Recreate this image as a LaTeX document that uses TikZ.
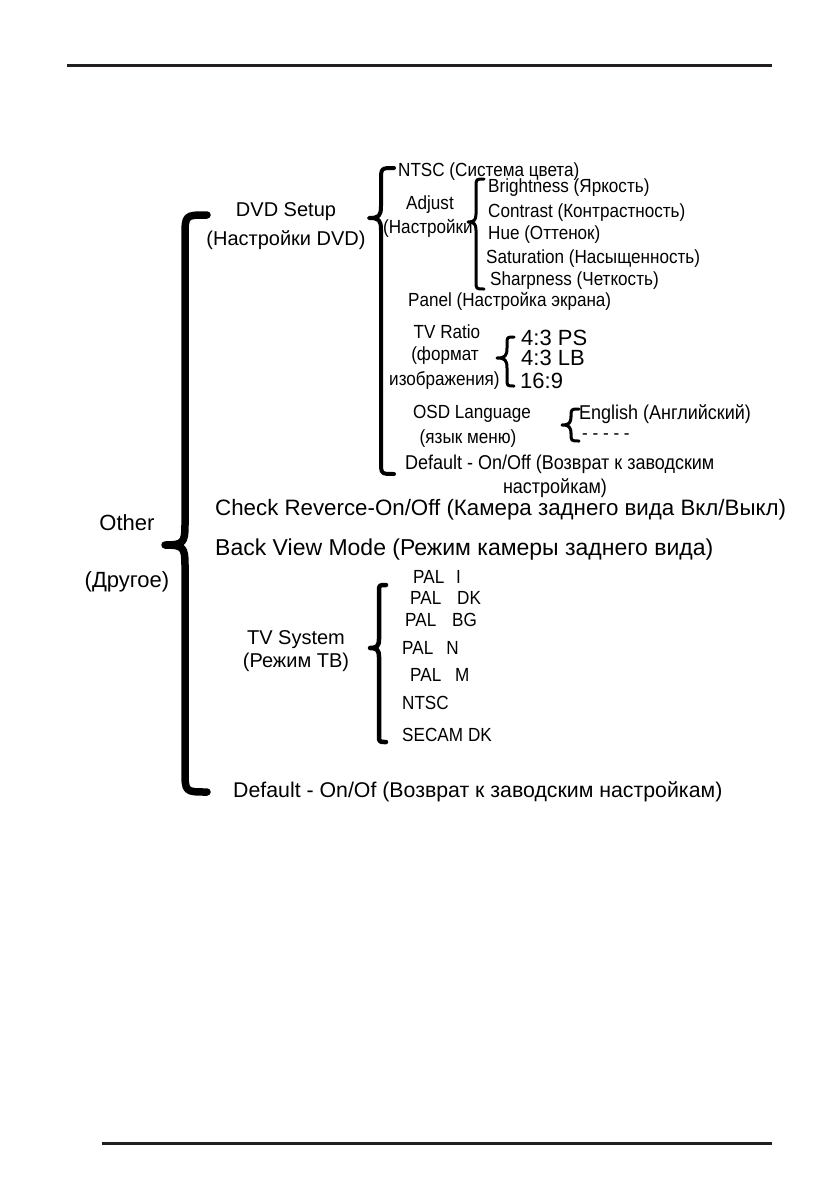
\documentclass[tikz,border=0pt]{standalone}
\usepackage{fontspec}
\setmainfont{Liberation Sans}
\newfontfamily\narrowfont[FakeStretch=0.9]{Liberation Sans}
\usepackage{tikz}
\usetikzlibrary{calc,positioning}
\usepackage{xcolor}
\definecolor{RuleBlack}{HTML}{231F20}
% curly brace: [opts] line x, tip x, cusp x, top y, cusp y, bottom y
\newcommand{\menubrace}[7][]{%
  \draw[bracepath,#1] (#3,#5) .. controls (#2,#5) .. (#2,{#5+#3-#2})
    -- (#2,{#6-#2+#4}) .. controls (#2,{#6-2}) and ({#2-2},#6) .. (#4,#6)
    .. controls ({#2-2},#6) and (#2,{#6+2}) .. (#2,{#6+#2-#4})
    -- (#2,{#7-#3+#2}) .. controls (#2,#7) .. (#3,#7);}

\begin{document}
\begin{tikzpicture}[x=1pt,y=-1pt,
    bigtxt/.style={font=\fontsize{20}{23}\selectfont, inner sep=0pt},
    hugetxt/.style={font=\fontsize{22}{25}\selectfont, inner sep=0pt},
    smalltxt/.style={font=\narrowfont\fontsize{19}{21}\selectfont, inner sep=0pt},
    bracepath/.style={line width=3pt, line cap=round, line join=round}]
  \useasboundingbox (0,0) rectangle (839,1191);
  % page rules
  \draw[RuleBlack, line width=3pt] (67,65) -- (772,65);
  \draw[RuleBlack, line width=3pt] (102,1143) -- (772,1143);
  % root
  \node[hugetxt] (other) at (127,523) {Other};
  \node[hugetxt] (otherru) at (127,582) {(Другое)};
  \menubrace[line width=7.5pt]{185}{207}{165}{215}{545}{792}
  % DVD setup
  \node[bigtxt] (dvd) at (286,212) {DVD Setup};
  \node[bigtxt] (dvdru) at (286,240) {(Настройки DVD)};
  \menubrace[line width=4pt]{381}{394}{369}{168}{218}{474}
  \node[smalltxt, anchor=west] (ntsccol) at (398,172) {NTSC (Система цвета)};
  \node[smalltxt] (adjust) at (430,205) {Adjust};
  \node[smalltxt, anchor=west] (adjustru) at (383,228) {(Настройки};
  \menubrace{476}{484}{468}{179}{222}{289}
  \node[smalltxt, anchor=west] (bright) at (488,188) {Brightness (Яркость)};
  \node[smalltxt, anchor=west] (contrast) at (488,213) {Contrast (Контрастность)};
  \node[smalltxt, anchor=west] (hue) at (488,235) {Hue (Оттенок)};
  \node[smalltxt, anchor=west] (satur) at (486,259) {Saturation (Насыщенность)};
  \node[smalltxt, anchor=west] (sharp) at (490,281) {Sharpness (Четкость)};
  \node[smalltxt, anchor=west] (panel) at (408,301) {Panel (Настройка экрана)};
  % TV ratio
  \node[smalltxt] (ratio) at (447,332) {TV Ratio};
  \node[smalltxt] (ratioru) at (445,356) {(формат};
  \node[smalltxt, anchor=west] (ratioru2) at (389,380) {изображения)};
  \menubrace{507}{514}{497}{337}{358}{386}
  \node[bigtxt, anchor=west, font=\fontsize{22}{24}\selectfont] (ps) at (521,338) {4:3 PS};
  \node[bigtxt, anchor=west, font=\fontsize{22}{24}\selectfont] (lb) at (521,358) {4:3 LB};
  \node[bigtxt, anchor=west, font=\fontsize{22}{24}\selectfont] (wide) at (520,381) {16:9};
  % OSD language
  \node[smalltxt] (osd) at (472,414) {OSD Language};
  \node[smalltxt] (osdru) at (468,439) {(язык меню)};
  \menubrace{571}{579}{562}{409}{425}{441}
  \node[smalltxt, anchor=west, font=\narrowfont\fontsize{20}{22}\selectfont] (english) at (579,414) {English (Английский)};
  \node[smalltxt, anchor=west] (dashes) at (582,437) {- - - - -};
  \node[smalltxt, anchor=west, font=\narrowfont\fontsize{20}{22}\selectfont] (dvddef) at (405,464) {Default - On/Off (Возврат к заводским};
  \node[smalltxt, font=\narrowfont\fontsize{20}{22}\selectfont] (dvddef2) at (555,488) {настройкам)};
  % single entries
  \node[bigtxt, anchor=west, font=\fontsize{22.3}{25}\selectfont] (reverse) at (215,510) {Check Reverce-On/Off (Камера заднего вида Вкл/Выкл)};
  \node[bigtxt, anchor=west, font=\fontsize{23}{25}\selectfont] (backview) at (215,550) {Back View Mode (Режим камеры заднего вида)};
  % TV system
  \node[bigtxt] (tvsys) at (296,640) {TV System};
  \node[bigtxt] (tvsysru) at (296,662) {(Режим ТВ)};
  \menubrace[line width=4.5pt]{379}{386}{370}{585}{648}{742}
  \node[smalltxt, anchor=west] (pali) at (413,577) {PAL\hspace{12pt}I};
  \node[smalltxt, anchor=west] (paldk) at (410,598) {PAL\hspace{16pt}DK};
  \node[smalltxt, anchor=west] (palbg) at (405,620) {PAL\hspace{16pt}BG};
  \node[smalltxt, anchor=west] (paln) at (402,648) {PAL\hspace{13pt}N};
  \node[smalltxt, anchor=west] (palm) at (410,675) {PAL\hspace{14pt}M};
  \node[smalltxt, anchor=west] (ntsc) at (402,703) {NTSC};
  \node[smalltxt, anchor=west] (secam) at (402,735) {SECAM\hspace{5pt}DK};
  % default
  \node[bigtxt, anchor=west, font=\fontsize{21.3}{24}\selectfont] (default) at (233,792) {Default - On/Of (Возврат к заводским настройкам)};
\end{tikzpicture}
\end{document}
